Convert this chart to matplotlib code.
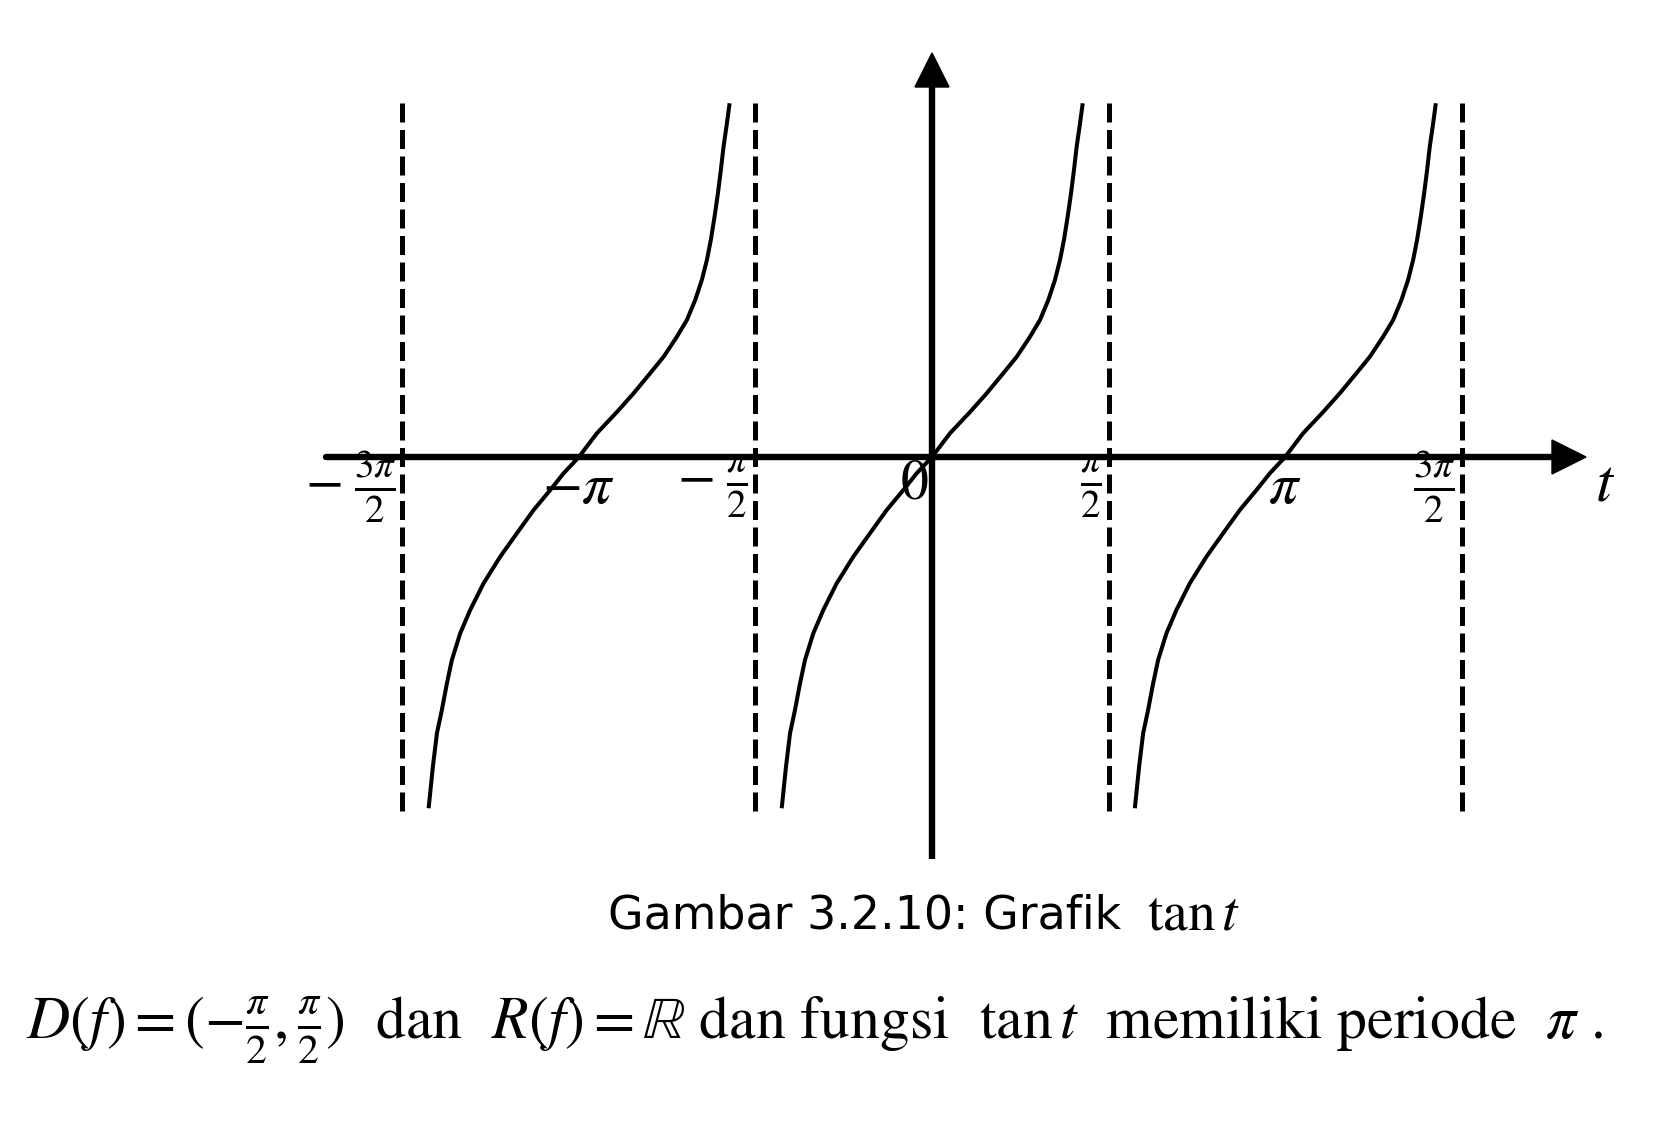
import numpy as np
import matplotlib
matplotlib.use("Agg")
from matplotlib import pyplot as plt
from matplotlib.patches import Polygon

plt.rcParams['mathtext.fontset'] = 'stix'

# one branch of the curve (t in rad, y in same units)
branch_t = [-1.337, -1.299, -1.263, -1.219, -1.174, -1.130, -1.056, -0.967,
            -0.848, -0.700, -0.552, -0.403, -0.255, -0.136, 0.0,
            0.160, 0.338, 0.487, 0.634, 0.754, 0.872, 0.961, 1.035, 1.094,
            1.139, 1.174, 1.207, 1.237, 1.263, 1.287, 1.317, 1.341]
branch_y = [-3.125, -2.755, -2.458, -2.251, -2.013, -1.806, -1.569, -1.361,
            -1.124, -0.887, -0.679, -0.472, -0.294, -0.145, 0.0,
            0.211, 0.400, 0.567, 0.745, 0.892, 1.070, 1.219, 1.397, 1.575,
            1.753, 1.931, 2.138, 2.346, 2.553, 2.761, 2.969, 3.147]
branch_centers = [-np.pi, 0.0, np.pi]
asymptotes = [-3 * np.pi / 2, -np.pi / 2, np.pi / 2, 3 * np.pi / 2]
asym_y = (-3.15, 3.15)

frac_ticks = [-3 * np.pi / 2, -np.pi / 2, np.pi / 2, 3 * np.pi / 2]
frac_labels = [r'$-\;\frac{3\pi}{2}$', r'$-\;\frac{\pi}{2}$', r'$\frac{\pi}{2}$', r'$\frac{3\pi}{2}$']
pi_ticks = [-np.pi, np.pi]
pi_labels = [r'$-\pi$', r'$\pi$']

W, H = 1658, 1136
ox, oy = 932, 457      # origin in pixels (from top-left)
s = 112.4              # pixels per unit

fig = plt.figure(figsize=(W / 100, H / 100), dpi=100)
ax = fig.add_axes([0, 0, 1, 1])
ax.set_xlim(-ox / s, (W - ox) / s)
ax.set_ylim((oy - H) / s, oy / s)
ax.axis('off')

# axes with arrows
x_left, x_tip = (326 - ox) / s, (1586 - ox) / s
y_bot, y_tip = (oy - 859) / s, (oy - 53) / s
head_l, head_w = 34 / s, 17 / s
ax.plot([x_left, x_tip - head_l], [0, 0], color='black', lw=4.6, solid_capstyle='round')
ax.plot([0, 0], [y_bot, y_tip - head_l], color='black', lw=4.6, solid_capstyle='butt')
ax.add_patch(Polygon([[x_tip, 0], [x_tip - head_l, head_w], [x_tip - head_l, -head_w]],
                     closed=True, color='black'))
ax.add_patch(Polygon([[0, y_tip], [-head_w, y_tip - head_l], [head_w, y_tip - head_l]],
                     closed=True, color='black'))

# asymptotes
for a in asymptotes:
    ax.plot([a, a], asym_y, color='black', lw=3.6, dashes=(3.8, 1.5),
            dash_capstyle='butt')

# branches
bt = np.array(branch_t)
by = np.array(branch_y)
for c in branch_centers:
    ax.plot(bt + c, by, color='black', lw=2.9, solid_joinstyle='round', solid_capstyle='butt')

# tick labels
lab_y = -30 / s
for x, lab in zip(frac_ticks, frac_labels):
    ax.text(x - 6 / s, lab_y, lab, ha='right', va='center', fontsize=40)
for x, lab in zip(pi_ticks, pi_labels):
    ax.text(x, lab_y, lab, ha='center', va='center', fontsize=42)
ax.text(-3 / s, -27 / s, r'$0$', ha='right', va='center', fontsize=40)
ax.text((1605 - ox) / s, -27 / s, r'$t$', ha='center', va='center', fontsize=44)

# caption
fig.text(1121 / W, 1 - 916 / H, 'Gambar 3.2.10: Grafik', ha='right', va='center',
         fontsize=33, family='DejaVu Sans')
fig.text(1147 / W, 1 - 914 / H, r'$\tan t$', ha='left', va='center', fontsize=40)

fig.text(26 / W, 1 - 1030 / H,
         r'$D(f)=(-\frac{\pi}{2},\frac{\pi}{2})$  dan  $R(f)=\mathbb{R}$ dan fungsi  $\tan t$  memiliki periode  $\pi$ .',
         ha='left', va='center', fontsize=43, family='STIXGeneral')

fig.savefig('out.png', dpi=100)
